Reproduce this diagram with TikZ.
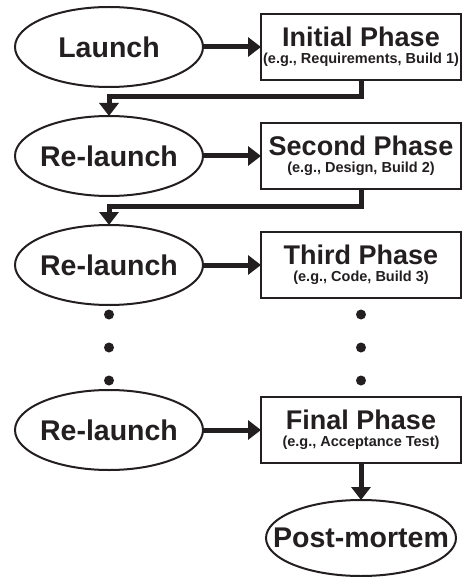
\documentclass[tikz,border=0pt]{standalone}
\usepackage{fontspec}
\setmainfont{Liberation Sans}
\usepackage{tikz}
\usetikzlibrary{positioning,arrows.meta,shapes.geometric,calc}
\definecolor{ink}{HTML}{231F20}

\newcommand{\phasename}[1]{{\fontsize{27}{27}\selectfont #1}}

\begin{document}
\begin{tikzpicture}[
    node distance=29pt and 58pt,
    every node/.style={outer sep=0pt, text=ink},
    event/.style={ellipse, draw=ink, line width=2pt, minimum width=188pt,
                  minimum height=80pt, inner xsep=-25pt, inner ysep=0pt,
                  font=\fontsize{28.5}{30}\selectfont\bfseries},
    phase/.style={rectangle, draw=ink, line width=2.5pt, minimum width=200pt,
                  minimum height=66pt, inner sep=0pt, align=center,
                  font=\fontsize{14.5}{17}\selectfont\bfseries},
    arrow/.style={-{Triangle[length=13pt, width=19pt]}, line width=5pt, draw=ink}
]
\useasboundingbox (0,0) rectangle (464pt,-577pt);

% Left column: launch events
\node[event] at (109pt,-47pt) (launch) {Launch};
\node[event, below=of launch] (relaunch1) {Re-launch};
\node[event, below=of relaunch1] (relaunch2) {Re-launch};
\node[event, below=85pt of relaunch2] (relaunch3) {Re-launch};

% Right column: phases
\node[phase, right=of launch] (initial) {\phasename{Initial Phase}\\(e.g., Requirements, Build 1)};
\node[phase, right=of relaunch1] (second) {\phasename{Second Phase}\\(e.g., Design, Build 2)};
\node[phase, right=of relaunch2] (third) {\phasename{Third Phase}\\(e.g., Code, Build 3)};
\node[phase, right=of relaunch3] (final) {\phasename{Final Phase}\\(e.g., Acceptance Test)};
\node[event, below=37pt of final, minimum width=190pt, minimum height=76pt] (postmortem) {Post-mortem};

% Launch -> phase
\draw[arrow] (launch) -- (initial);
\draw[arrow] (relaunch1) -- (second);
\draw[arrow] (relaunch2) -- (third);
\draw[arrow] (relaunch3) -- (final);

% Phase -> next launch
\draw[arrow] (initial.south) -- ++(0,-17pt) -| (relaunch1.north);
\draw[arrow] (second.south) -- ++(0,-17pt) -| (relaunch2.north);
\draw[arrow] (final) -- (postmortem);

% Ellipsis dots between third and final rows
\foreach \k in {-1,0,1} {
  \fill[ink] ($(relaunch2.south)!.5!(relaunch3.north)+(0,\k*33pt)$) circle (5pt);
  \fill[ink] ($(third.south)!.5!(final.north)+(0,\k*33pt)$) circle (5pt);
}

\end{tikzpicture}
\end{document}
